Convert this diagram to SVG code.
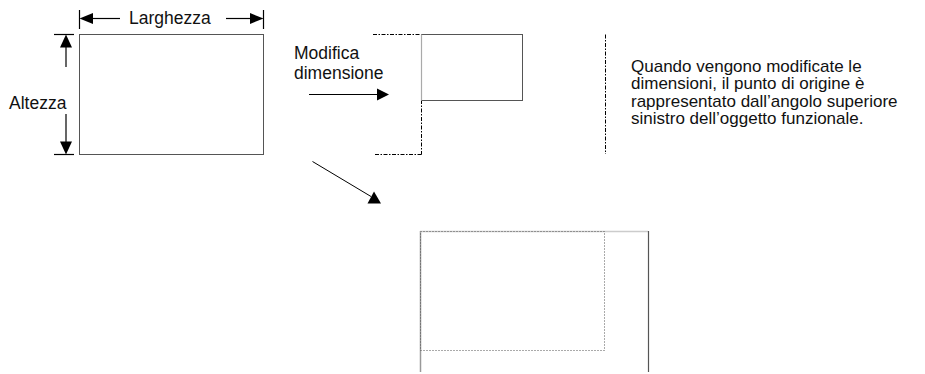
<svg xmlns="http://www.w3.org/2000/svg" width="925" height="374" viewBox="0 0 925 374">
  <style>
    .lbl { font-family: "Liberation Sans", Arial, sans-serif; font-size: 17.5px; fill: #111; }
    .para { font-family: "Liberation Sans", Arial, sans-serif; font-size: 17px; fill: #111; }
    .ln { stroke: #000; stroke-width: 1.2; fill: none; }
    .box { stroke: #555; stroke-width: 1; fill: none; }
    .dashdot { stroke: #000; stroke-width: 1; fill: none; stroke-dasharray: 4 1.5 1.5 1.5; }
    .dot { stroke: #555; stroke-width: 1; fill: none; stroke-dasharray: 1 2; }
    .head { fill: #000; }
  </style>
  <rect width="925" height="374" fill="#fff"/>

  <!-- original object with its width / height dimensions -->
  <g id="original">
    <rect class="box" x="79.5" y="34.5" width="184" height="120"/>
  </g>

  <g id="dim-width">
    <line class="ln" x1="79.5" y1="10" x2="79.5" y2="29"/>
    <line class="ln" x1="263.5" y1="10" x2="263.5" y2="29"/>
    <line class="ln" x1="92" y1="18.5" x2="120" y2="18.5"/>
    <polygon class="head" points="79.5,18.5 93,13 93,24"/>
    <line class="ln" x1="226" y1="18.5" x2="251" y2="18.5"/>
    <polygon class="head" points="263.5,18.5 250,13 250,24"/>
    <text class="lbl" x="129" y="23.5">Larghezza</text>
  </g>

  <g id="dim-height">
    <line class="ln" x1="54" y1="34.5" x2="74" y2="34.5"/>
    <line class="ln" x1="54" y1="154.5" x2="74" y2="154.5"/>
    <line class="ln" x1="66" y1="46" x2="66" y2="67"/>
    <polygon class="head" points="66,34.5 60,47.5 72,47.5"/>
    <line class="ln" x1="66" y1="114" x2="66" y2="142"/>
    <polygon class="head" points="66,154.5 60,141.5 72,141.5"/>
    <text class="lbl" x="9" y="108.5">Altezza</text>
  </g>

  <!-- resized object: shrinks from the top-left origin -->
  <g id="resized">
    <line class="dashdot" x1="373" y1="34.5" x2="421" y2="34.5"/>
    <line class="dashdot" x1="421.5" y1="100" x2="421.5" y2="154.5"/>
    <line class="dashdot" x1="375" y1="154.5" x2="421.5" y2="154.5"/>
    <line class="dashdot" x1="605.5" y1="34.5" x2="605.5" y2="154"/>
    <rect class="box" x="421.5" y="34.5" width="101" height="66"/>
    <line x1="421.5" y1="34.5" x2="421.5" y2="100.5" stroke="#aaa" stroke-width="1.2"/>
  </g>

  <g id="label-resize">
    <text class="lbl" x="294" y="59">Modifica</text>
    <text class="lbl" x="294" y="79">dimensione</text>
  </g>

  <g id="note">
    <text class="para" x="631" y="71.5">Quando vengono modificate le</text>
    <text class="para" x="631" y="89">dimensioni, il punto di origine è</text>
    <text class="para" x="631" y="106.5">rappresentato dall’angolo superiore</text>
    <text class="para" x="631" y="124">sinistro dell’oggetto funzionale.</text>
  </g>

  <!-- enlarged object: grows from the same origin -->
  <g id="enlarged">
    <line x1="420.5" y1="231" x2="420.5" y2="372" stroke="#999" stroke-width="1.5"/>
    <line x1="420" y1="231.5" x2="648" y2="231.5" stroke="#ccc" stroke-width="1.5"/>
    <line x1="648.5" y1="231" x2="648.5" y2="372" stroke="#555" stroke-width="1.2"/>
    <rect class="dot" x="420.5" y="231.5" width="184" height="119"/>
  </g>

  <g id="connectors">
    <line class="ln" x1="309" y1="94.5" x2="378" y2="94.5"/>
    <polygon class="head" points="389,94.5 377,88.5 377,100.5"/>
    <line x1="312.5" y1="161.5" x2="371" y2="196.5" stroke="#000" stroke-width="1"/>
    <polygon class="head" points="367.5,203.5 381,203.5 374,191.5"/>
  </g>
</svg>
